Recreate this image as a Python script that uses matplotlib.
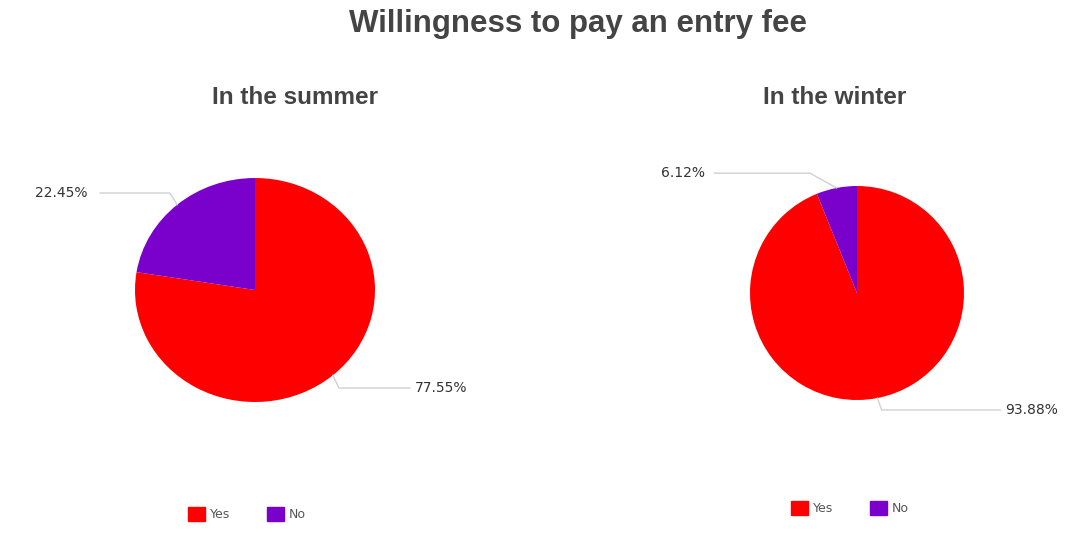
import numpy as np
import matplotlib
matplotlib.use("Agg")
import matplotlib.pyplot as plt
from matplotlib.patches import Patch

plt.rcParams['font.family'] = ['Liberation Sans', 'DejaVu Sans']

# data
categories = ["Yes", "No"]
summer = [77.55, 22.45]
winter = [93.88, 6.12]
colors = ["#ff0000", "#7a00cc"]
label_color = "#444444"

W, H = 1075, 544
fig = plt.figure(figsize=(W / 100, H / 100), dpi=100)


def px_axes(cx, cy, rx, ry, lim=2.0):
    # axes placed so that data radius 1 maps to rx, ry pixels around centre cx, cy
    w = 2 * lim * rx
    h = 2 * lim * ry
    ax = fig.add_axes([(cx - w / 2) / W, (H - cy - h / 2) / H, w / W, h / H])
    ax.axis('off')
    return ax


def draw_pie(ax, values, lbl_pos):
    wedges, _ = ax.pie(values, colors=colors, startangle=90, counterclock=False,
                       radius=1.0, wedgeprops=dict(linewidth=0))
    ax.set_xlim(-2, 2)
    ax.set_ylim(-2, 2)
    ax.set_aspect('auto')
    for w, v, (elbow, tip, tx, ty, ha) in zip(wedges, values, lbl_pos):
        ang = np.deg2rad((w.theta1 + w.theta2) / 2)
        ex, ey = np.cos(ang), np.sin(ang)
        ax.plot([ex, elbow[0], tip], [ey, elbow[1], elbow[1]], color="#d0d0d0",
                lw=1.0, clip_on=False)
        ax.text(tx, ty, f"{v:.2f}%", ha=ha, va='center', fontsize=10,
                family=['DejaVu Sans'], color="#333333", clip_on=False)


# summer pie: centre (255, 290), radii 120 x 112 px
ax1 = px_axes(255, 290, 120, 112)
draw_pie(ax1, summer, [
    ((0.70, -0.875), 1.29, 1.33, -0.875, 'left'),
    ((-0.71, 0.866), -1.29, -1.40, 0.866, 'right'),
])

# winter pie: centre (857, 293), radius 107 px
ax2 = px_axes(857, 293, 107, 107)
draw_pie(ax2, winter, [
    ((0.23, -1.093), 1.34, 1.38, -1.093, 'left'),
    ((-0.44, 1.12), -1.33, -1.42, 1.12, 'right'),
])

fig.text(578 / W, 1 - 24 / H, "Willingness to pay an entry fee", ha='center',
         va='center', fontsize=22.5, fontweight='bold', color=label_color)
fig.text(295 / W, 1 - 97 / H, "In the summer", ha='center', va='center',
         fontsize=17.5, fontweight='bold', color=label_color)
fig.text(835 / W, 1 - 97 / H, "In the winter", ha='center', va='center',
         fontsize=17.5, fontweight='bold', color=label_color)

handles = [Patch(facecolor=c, edgecolor=c) for c in colors]
for lx, ly in [(247, 514), (850, 508)]:
    fig.legend(handles, categories, loc='center', bbox_to_anchor=(lx / W, 1 - ly / H),
               ncol=2, frameon=False, handlelength=1.3, handleheight=1.3,
               columnspacing=3.0, handletextpad=0.4, labelcolor="#555555",
               prop={'family': 'DejaVu Sans', 'size': 9})

fig.savefig("out.png", dpi=100, facecolor="white")
